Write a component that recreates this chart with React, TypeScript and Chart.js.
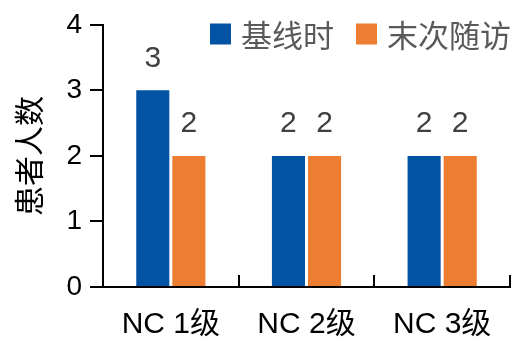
import React, { useEffect, useRef } from 'react';
import { Chart, registerables } from 'chart.js';

Chart.register(...registerables);

// Patient counts per NC grade, at baseline and at the last follow-up visit
const categories = ['NC 1级', 'NC 2级', 'NC 3级'];
const seriesNames = ['基线时', '末次随访'];
const baselineCounts = [3, 2, 2];
const lastVisitCounts = [2, 2, 2];
const seriesColors = ['#0353A4', '#ED7D31'];
const yAxisTitle = '患者人数';
const yMin = 0;
const yMax = 4;
const yStep = 1;

const LATIN_FONT = '"Liberation Sans", Arial, "Noto Sans CJK SC", sans-serif';
const CJK_FONT = '"Noto Sans CJK SC", "Liberation Sans", sans-serif';

// Numbers written above each bar
const valueLabels = {
  id: 'valueLabels',
  afterDatasetsDraw(chart: any) {
    const ctx = chart.ctx;
    ctx.save();
    ctx.font = `30px ${LATIN_FONT}`;
    ctx.fillStyle = '#404040';
    ctx.textAlign = 'center';
    ctx.textBaseline = 'middle';
    chart.data.datasets.forEach((ds: any, di: number) => {
      const meta = chart.getDatasetMeta(di);
      meta.data.forEach((bar: any, i: number) => {
        ctx.fillText(String(ds.data[i]), bar.x, bar.y - 32);
      });
    });
    ctx.restore();
  },
};

// Solid black axis lines, y ticks pointing out and category ticks pointing in
const axisFrame = {
  id: 'axisFrame',
  afterDraw(chart: any) {
    const x = chart.scales.x;
    const y = chart.scales.y;
    const n = chart.data.labels.length;
    const step = (x.right - x.left) / n;
    const ctx = chart.ctx;
    ctx.save();
    ctx.strokeStyle = '#000';
    ctx.lineWidth = 2;
    const left = Math.round(x.left);
    const bottom = Math.round(x.top);
    ctx.beginPath();
    ctx.moveTo(left, Math.round(y.top) - 1);
    ctx.lineTo(left, bottom + 1);
    ctx.moveTo(left - 1, bottom);
    ctx.lineTo(Math.round(x.right) + 1, bottom);
    for (const t of y.ticks) {
      const py = Math.round(y.getPixelForValue(t.value));
      ctx.moveTo(left - 13, py);
      ctx.lineTo(left, py);
    }
    for (let i = 1; i <= n; i++) {
      const px = Math.round(x.left + i * step);
      ctx.moveTo(px, bottom - 12);
      ctx.lineTo(px, bottom);
    }
    ctx.stroke();
    ctx.restore();
  },
};

// Legend in the top-right corner, right-aligned
const cornerLegend = {
  id: 'cornerLegend',
  afterDraw(chart: any) {
    const ctx = chart.ctx;
    ctx.save();
    ctx.font = `31px ${CJK_FONT}`;
    ctx.textBaseline = 'middle';
    ctx.textAlign = 'left';
    const box = 21;
    const boxGap = 10;
    const itemGap = 22;
    const cy = 34;
    const items = chart.data.datasets.map((ds: any) => ({
      label: ds.label,
      color: ds.backgroundColor,
      w: ctx.measureText(ds.label).width,
    }));
    const total = items.reduce((s: number, it: any) => s + box + boxGap + it.w, 0) + itemGap * (items.length - 1);
    let x = 511 - total;
    items.forEach((it: any) => {
      ctx.fillStyle = it.color;
      ctx.fillRect(x, cy - box / 2, box, box);
      x += box + boxGap;
      ctx.fillStyle = '#595959';
      ctx.fillText(it.label, x, cy + 1);
      x += it.w + itemGap;
    });
    ctx.restore();
  },
};

export default function App() {
  const canvasRef = useRef<HTMLCanvasElement | null>(null);

  useEffect(() => {
    if (!canvasRef.current) return;
    const chart = new Chart(canvasRef.current, {
      type: 'bar',
      data: {
        labels: categories,
        datasets: [
          { label: seriesNames[0], data: baselineCounts, backgroundColor: seriesColors[0] },
          { label: seriesNames[1], data: lastVisitCounts, backgroundColor: seriesColors[1] },
        ],
      },
      options: {
        animation: false,
        responsive: false,
        devicePixelRatio: 1,
        categoryPercentage: 0.532,
        barPercentage: 0.917,
        layout: { padding: { top: 24, right: 5, left: 0, bottom: 0 } },
        plugins: {
          legend: { display: false },
          tooltip: { enabled: false },
        },
        scales: {
          x: {
            grid: { display: false, drawTicks: false },
            border: { display: false },
            ticks: {
              color: '#000',
              padding: 20,
              font: { size: 30, family: LATIN_FONT },
            },
            afterFit(scale: any) {
              scale.height = 56;
            },
          },
          y: {
            min: yMin,
            max: yMax,
            grid: {
              display: true,
              drawOnChartArea: false,
              drawTicks: true,
              tickLength: 13,
              tickColor: 'rgba(0,0,0,0)',
            },
            border: { display: false },
            ticks: {
              stepSize: yStep,
              color: '#000',
              padding: 8,
              font: { size: 28, family: LATIN_FONT },
            },
            title: {
              display: true,
              text: yAxisTitle,
              color: '#000',
              font: { size: 30, family: CJK_FONT },
              padding: { top: 11, bottom: 0 },
            },
            afterFit(scale: any) {
              scale.width = 103;
            },
          },
        },
      },
      plugins: [valueLabels, axisFrame, cornerLegend],
    } as any);
    return () => chart.destroy();
  }, []);

  return (
    <div style={{ position: 'fixed', left: 0, top: 0, width: 515, height: 343, background: '#fff' }}>
      <canvas ref={canvasRef} width={515} height={343} style={{ width: 515, height: 343 }} />
    </div>
  );
}
